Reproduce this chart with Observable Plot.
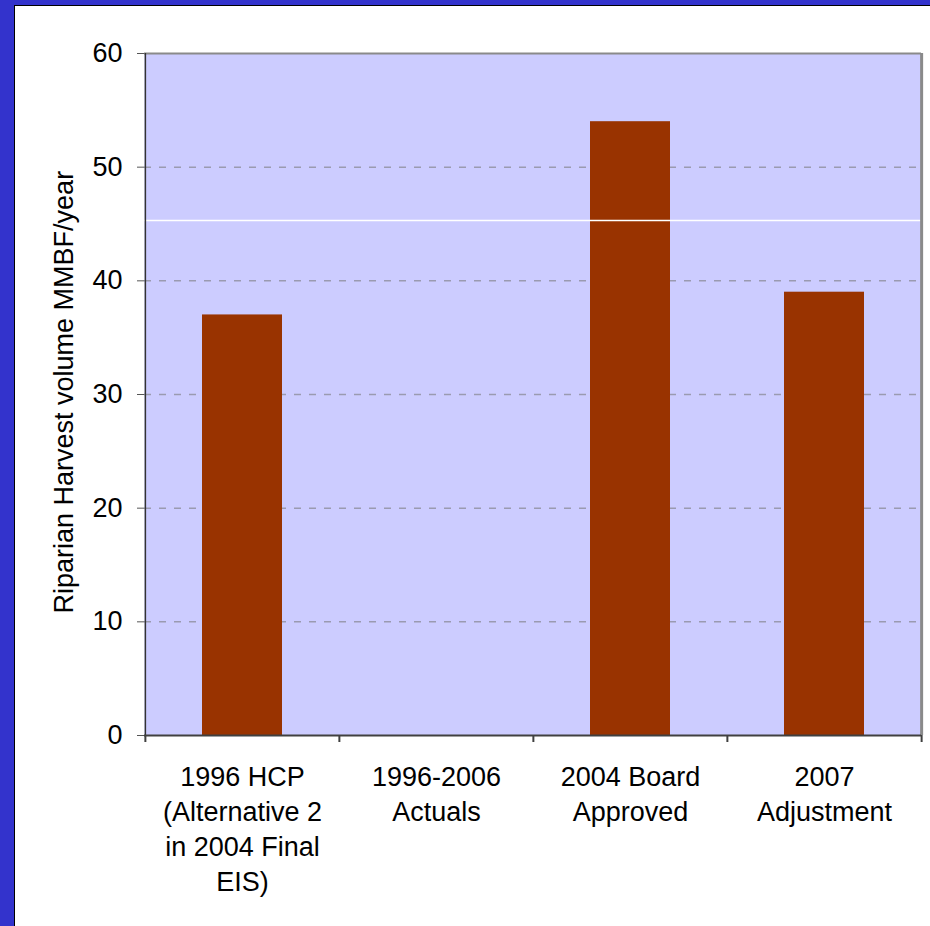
<!DOCTYPE html>
<html><head><meta charset="utf-8">
<script src="https://cdn.jsdelivr.net/npm/d3@7"></script>
<script src="https://cdn.jsdelivr.net/npm/@observablehq/plot@0.6"></script>
<style>
html,body{margin:0;padding:0;background:#fff;}
#page{position:relative;width:930px;height:926px;background:#3333CC;overflow:hidden;}
#inner{position:absolute;left:14px;top:5px;right:0;bottom:0;background:#fff;border-left:1px solid #000;border-top:1px solid #000;}
#chart{position:absolute;left:0;top:0;}
</style></head><body>
<div id="page"><div id="inner"></div><div id="chart"></div></div>
<script>
const categories = ["1996 HCP\n(Alternative 2\nin 2004 Final\nEIS)", "1996-2006\nActuals", "2004 Board\nApproved", "2007\nAdjustment"];
const values = [37, 0, 54, 39];
const yTicks = [0, 10, 20, 30, 40, 50, 60];
const gridTicks = [10, 20, 30, 40, 50];
const whiteLine = [45.3];
const yLabel = "Riparian Harvest volume MMBF/year";

const W = 930, H = 926, ML = 144, MR = 9, MT = 53, MB = 191;
const step = (W - ML - MR) / categories.length;
const table = categories.map((c, i) => ({category: c, value: values[i]}));
const font = "Liberation Sans, Arial, Helvetica, sans-serif";
const last = categories[categories.length - 1];

const chart = Plot.plot({
  width: W, height: H,
  marginLeft: ML, marginRight: MR, marginTop: MT, marginBottom: MB,
  style: {fontFamily: font, fontSize: "27px", background: "transparent", color: "#000", overflow: "visible"},
  x: {domain: categories, paddingInner: 0.59, paddingOuter: 0.295, axis: null},
  y: {domain: [0, 60], axis: null},
  marks: [
    Plot.frame({fill: "#CCCCFF", stroke: null}),
    Plot.gridY(gridTicks, {stroke: "#9a9ab0", strokeOpacity: 1, strokeWidth: 1.5, strokeDasharray: "7,8"}),
    Plot.barY(table, {x: "category", y: "value", fill: "#993300"}),
    Plot.ruleY(whiteLine, {stroke: "#ffffff", strokeWidth: 1.5}),
    Plot.ruleY([60], {stroke: "#8a8a8a", strokeWidth: 2}),
    Plot.ruleX([last], {x: d => d, dx: step / 2, stroke: "#8a8a8a", strokeWidth: 3}),
    Plot.ruleX([categories[0]], {x: d => d, dx: -step / 2, stroke: "#333", strokeWidth: 1.5}),
    Plot.ruleY([0], {stroke: "#404040", strokeWidth: 2}),
    Plot.ruleX(categories, {x: d => d, y1: 0, y2: 0, insetBottom: -7, dx: -step / 2, stroke: "#404040", strokeWidth: 2}),
    Plot.ruleX([last], {x: d => d, y1: 0, y2: 0, insetBottom: -7, dx: step / 2, stroke: "#404040", strokeWidth: 2}),
    Plot.axisY(yTicks, {tickSize: 7, tickPadding: 15, stroke: "#555", fontSize: 27, fill: "#000", label: null}),
    Plot.text(categories, {x: d => d, text: d => d, frameAnchor: "bottom", lineAnchor: "top", dy: 26, lineHeight: 1.29, fontSize: 27, fill: "#000"}),
    Plot.text([yLabel], {text: d => d, frameAnchor: "left", rotate: -90, textAnchor: "start", lineAnchor: "middle", dx: -80, dy: 219, fontSize: 27, fill: "#000"})
  ]
});
document.getElementById("chart").appendChild(chart);
</script>
</body></html>
